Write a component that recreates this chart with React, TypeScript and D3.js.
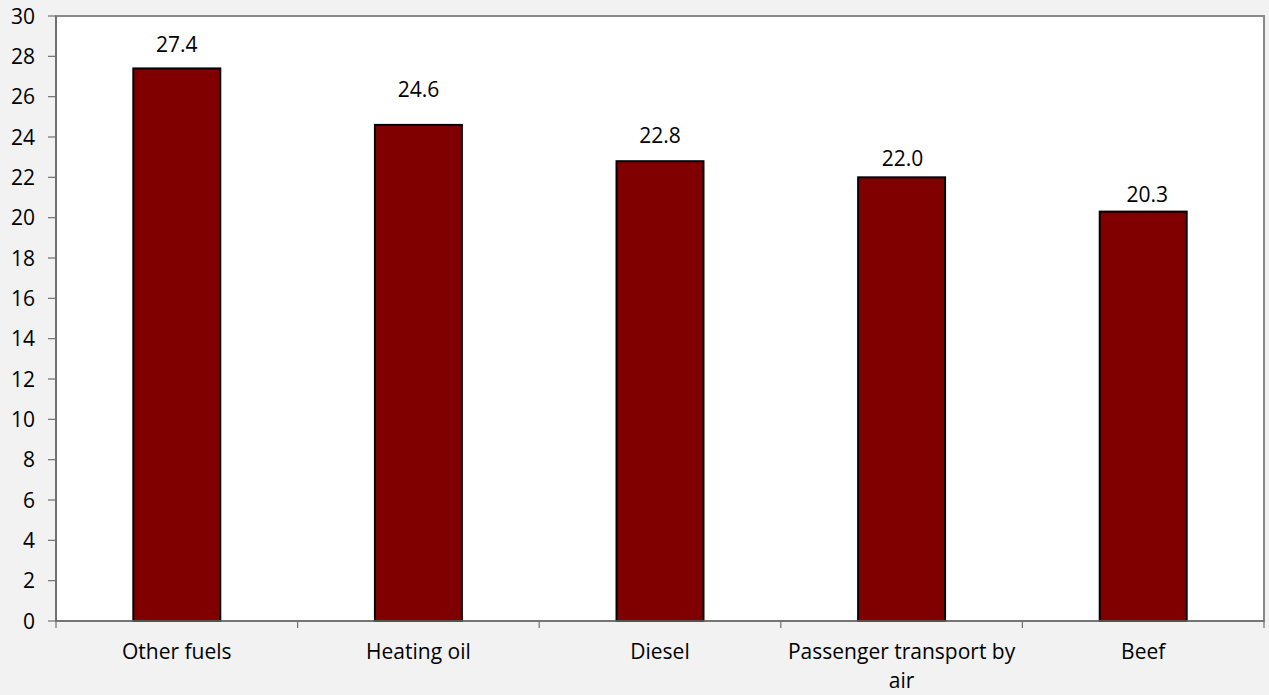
import React, { useEffect, useRef } from "react";
import * as d3 from "d3";

const categories = ["Other fuels", "Heating oil", "Diesel", "Passenger transport by air", "Beef"];
const values = [27.4, 24.6, 22.8, 22.0, 20.3];
const yTicks = [0, 2, 4, 6, 8, 10, 12, 14, 16, 18, 20, 22, 24, 26, 28, 30];

// hand-placed data labels: gap (px) between label baseline and bar top, and horizontal nudge
const labelGap = [16, 28, 18, 11, 10];
const labelNudge = [0, 0, 0, 1, 4];

const W = 1269;
const H = 695;
const margin = { top: 16, right: 5, bottom: 74, left: 56 };
const FONT = "'Open Sans', 'Liberation Sans', sans-serif";
const FS = 21;

export default function App() {
  const ref = useRef<SVGSVGElement | null>(null);

  useEffect(() => {
    const svg = d3.select(ref.current);
    svg.selectAll("*").remove();

    const x0 = margin.left;
    const x1 = W - margin.right;
    const y0 = H - margin.bottom;
    const y1 = margin.top;

    const x = d3.scaleBand<string>().domain(categories).range([x0, x1]).paddingInner(0).paddingOuter(0);
    const y = d3.scaleLinear().domain([0, 30]).range([y0, y1]);

    svg.append("rect").attr("width", W).attr("height", H).attr("fill", "#f2f2f2");

    // plot area
    svg.append("rect")
      .attr("x", x0).attr("y", y1)
      .attr("width", x1 - x0).attr("height", y0 - y1)
      .attr("fill", "#ffffff")
      .attr("stroke", "#898989")
      .attr("stroke-width", 2);

    // bars
    const bw = x.bandwidth() * 0.36;
    svg.append("g").selectAll("rect").data(values).join("rect")
      .attr("x", (_, i) => x(categories[i])! + x.bandwidth() / 2 - bw / 2)
      .attr("y", (d) => y(d))
      .attr("width", bw)
      .attr("height", (d) => y(0) - y(d))
      .attr("fill", "#800000")
      .attr("stroke", "#000000")
      .attr("stroke-width", 2);

    // value labels
    svg.append("g").selectAll("text").data(values).join("text")
      .attr("x", (_, i) => x(categories[i])! + x.bandwidth() / 2 + labelNudge[i])
      .attr("y", (d, i) => y(d) - labelGap[i])
      .attr("text-anchor", "middle")
      .attr("font-family", FONT)
      .attr("font-size", FS)
      .attr("fill", "#000")
      .text((d) => d.toFixed(1));

    // y axis
    const ya = svg.append("g");
    ya.append("line").attr("x1", x0).attr("x2", x0).attr("y1", y1).attr("y2", y0)
      .attr("stroke", "#6f6f6f").attr("stroke-width", 2);
    yTicks.forEach((t) => {
      ya.append("line").attr("x1", x0 - 8).attr("x2", x0).attr("y1", y(t)).attr("y2", y(t))
        .attr("stroke", "#6f6f6f").attr("stroke-width", 1.2);
      ya.append("text")
        .attr("x", x0 - 21).attr("y", y(t)).attr("dy", "0.36em")
        .attr("text-anchor", "end")
        .attr("font-family", FONT).attr("font-size", FS).attr("fill", "#000")
        .text(String(t));
    });

    // x axis
    const xa = svg.append("g");
    xa.append("line").attr("x1", x0).attr("x2", x1).attr("y1", y0).attr("y2", y0)
      .attr("stroke", "#6f6f6f").attr("stroke-width", 1.5);
    const edges = categories.map((c) => x(c)!).concat([x1]);
    edges.forEach((e) => {
      xa.append("line").attr("x1", e).attr("x2", e).attr("y1", y0).attr("y2", y0 + 7)
        .attr("stroke", "#6f6f6f").attr("stroke-width", 1.2);
    });

    const maxW = 232;
    categories.forEach((c) => {
      const cx = x(c)! + x.bandwidth() / 2;
      const t = xa.append("text")
        .attr("x", cx)
        .attr("y", y0 + 38)
        .attr("text-anchor", "middle")
        .attr("font-family", FONT).attr("font-size", FS).attr("fill", "#000");
      const words = c.split(" ");
      let line: string[] = [];
      let ts = t.append("tspan").attr("x", cx).attr("dy", 0);
      words.forEach((w) => {
        line.push(w);
        ts.text(line.join(" "));
        if ((ts.node() as SVGTSpanElement).getComputedTextLength() > maxW && line.length > 1) {
          line.pop();
          ts.text(line.join(" "));
          line = [w];
          ts = t.append("tspan").attr("x", cx).attr("dy", 29).text(w);
        }
      });
    });
  }, []);

  return <svg ref={ref} width={W} height={H} style={{ display: "block", position: "absolute", left: 0, top: 0 }} />;
}
